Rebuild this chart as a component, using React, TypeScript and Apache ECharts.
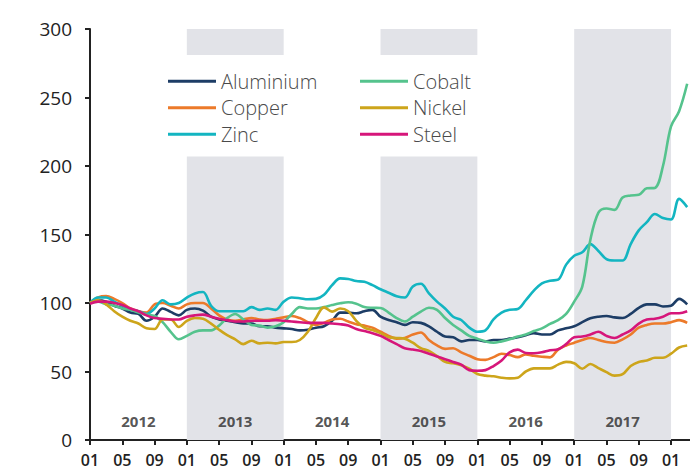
import React, { useEffect, useRef } from "react";
import * as echarts from "echarts";

// months since 2012-01 (index = month offset)
const years = ["2012", "2013", "2014", "2015", "2016", "2017"];
const shadedYears = [1, 3, 5]; // 2013, 2015, 2017
const legendCol1 = ["Aluminium", "Copper", "Zinc"];
const legendCol2 = ["Cobalt", "Nickel", "Steel"];

const aluminium = [100, 102, 101, 98, 96, 93, 92, 87, 90, 96, 93.5, 91,
  95, 96, 94.4, 90, 88, 87, 86, 85, 85, 83, 83, 82,
  81.5, 81, 80, 80.5, 82, 83, 87, 93, 93, 92.5, 94, 95,
  90, 87.6, 86, 84, 86, 85.5, 83, 79, 75.5, 75, 72, 73,
  73, 72, 73, 73, 74, 75, 76.5, 78, 77, 77, 80, 81.5,
  83, 86, 88.8, 90, 90.5, 89.5, 89, 92, 96.5, 99, 99, 97.5,
  98, 103, 99];
const copper = [100, 104, 105, 103, 100, 96, 94, 93, 99, 100, 98, 96,
  99, 100, 100, 96, 91, 88, 87, 88, 89, 88, 87.6, 88.5,
  89.5, 90.5, 89, 86, 84, 85.5, 88, 88.5, 86.5, 84.5, 83.5, 82,
  79, 76, 74, 74.5, 77, 78.5, 73, 69, 66.5, 67, 64, 61.5,
  59, 58.5, 60.5, 63, 62, 60.5, 62.5, 61.5, 60.8, 60.3, 66, 69,
  71, 73, 74.5, 73, 71.5, 71, 73.5, 77, 82, 84, 85, 85,
  86, 87.5, 85.5];
const zinc = [100, 104, 104, 101, 98, 95, 94, 92, 96, 102, 99, 100,
  104, 107, 108, 98, 94, 94, 94, 94, 97, 95, 96, 95,
  101, 104, 103.5, 102.7, 103, 106, 113, 118, 117.5, 116, 115.5, 113,
  110, 107.5, 105, 104, 112, 114, 107, 101, 96, 90, 87.6, 82,
  79, 80, 88, 93, 95, 95.6, 102, 109, 114.4, 116.3, 117, 128,
  134.5, 137, 143, 138, 132, 131, 131, 143, 153, 159, 165, 162,
  161, 176, 170];
const cobalt = [100, 101, 99, 98, 96, 95, 93, 91.5, 90.5, 86, 79, 73.5,
  76, 79, 80, 80, 83.5, 89, 92, 88, 84, 83.5, 82, 83,
  86, 92, 97, 96, 96, 97, 98.5, 99.8, 100.5, 99.5, 97, 96.5,
  96.4, 93, 89, 86.5, 90, 93.7, 96.5, 95, 89, 84, 80, 76,
  74, 72, 71, 72, 73.5, 75.5, 77, 79.5, 81.5, 84.7, 87.5, 92,
  101, 112, 146, 166, 169, 168, 177, 178.5, 179, 183.7, 184, 200,
  229, 240, 260];
const nickel = [100, 102, 99, 94, 90, 87, 85, 81.5, 81, 88, 88, 82.5,
  87, 89, 88.5, 85, 80.5, 76.5, 73.5, 70, 72.5, 70.5, 71, 70.5,
  71.5, 71.5, 73, 79, 89, 96.8, 93.7, 96, 94, 87, 82, 80.3,
  78, 75, 74.5, 74, 71, 67, 65, 61.3, 57, 56, 54.5, 52,
  48.2, 47, 46.5, 45.5, 45, 45.5, 50, 52.3, 52.3, 52.3, 55, 57,
  56, 52, 55.5, 52.5, 49.5, 47, 48, 54, 57, 58, 60, 60,
  63, 67.5, 69];
const steel = [99.5, 101, 101, 100, 98.5, 96, 94, 91, 89, 88.5, 88, 88,
  90, 91, 91.5, 90, 88.5, 87.5, 86.5, 86.5, 87, 87, 87, 87.5,
  87, 86.5, 86, 85.5, 85.5, 85.5, 85, 84.5, 83.5, 81, 79.5, 78,
  76, 73, 70, 67, 66, 65, 63, 61, 59, 57, 55, 51,
  50.5, 51, 54, 58, 64, 66, 63.5, 63.3, 64, 65.5, 66.2, 70,
  75, 75.5, 77, 79, 76, 74.5, 77, 80, 85, 88, 88.5, 90,
  92.5, 92.5, 94];

const seriesDefs = [
  { name: "Aluminium", data: aluminium, color: "#1d3d66" },
  { name: "Copper", data: copper, color: "#ec7a2a" },
  { name: "Zinc", data: zinc, color: "#13b5c1" },
  { name: "Cobalt", data: cobalt, color: "#55c38d" },
  { name: "Nickel", data: nickel, color: "#cda51b" },
  { name: "Steel", data: steel, color: "#d6167a" },
];

const FONT = "'Open Sans', 'Noto Sans', sans-serif";
const monthTicks = Array.from({ length: 19 }, (_, i) => i * 4);

export default function App() {
  const ref = useRef<HTMLDivElement>(null);
  useEffect(() => {
    if (!ref.current) return;
    const chart = echarts.init(ref.current, null, { renderer: "svg" });
    const bandColor = "#e2e3e8";
    const bandData: any[] = [];
    shadedYears.forEach((yi) => {
      const a = yi * 12;
      const b = a + 12;
      if (yi === 5) {
        bandData.push([{ xAxis: a, yAxis: 0 }, { xAxis: b, yAxis: 300 }]);
      } else {
        bandData.push([{ xAxis: a, yAxis: 0 }, { xAxis: b, yAxis: 207 }]);
        bandData.push([{ xAxis: a, yAxis: 281 }, { xAxis: b, yAxis: 300 }]);
      }
    });
    const legendBase = {
      orient: "vertical",
      top: 66,
      itemWidth: 48,
      itemHeight: 3,
      itemGap: 6,
      itemTextGap: 12,
      icon: "rect",
      selectedMode: false,
      textStyle: { fontFamily: FONT, fontSize: 20, color: "#4a4a4a", fontWeight: 300, lineHeight: 20.5 },
    };
    const option: any = {
      animation: false,
      grid: { left: 90, right: 0, top: 29, bottom: 30 },
      legend: [
        { ...legendBase, left: 163, data: legendCol1 },
        { ...legendBase, left: 355, data: legendCol2 },
      ],
      xAxis: {
        type: "value",
        min: 0,
        max: 74.35,
        interval: 4,
        splitLine: { show: false },
        axisLine: { show: true, lineStyle: { color: "#222", width: 2 } },
        axisTick: { show: true, length: 5, customValues: monthTicks, lineStyle: { color: "#222", width: 2 } },
        axisLabel: {
          customValues: monthTicks,
          margin: 12,
          fontFamily: FONT,
          fontSize: 16,
          fontWeight: 600,
          color: "#222",
          formatter: (v: number) => String((Math.round(v) % 12) + 1).padStart(2, "0"),
        },
      },
      yAxis: {
        type: "value",
        min: 0,
        max: 300,
        interval: 50,
        splitLine: { show: false },
        axisLine: { show: true, lineStyle: { color: "#222", width: 2 } },
        axisTick: { show: true, length: 5, lineStyle: { color: "#222", width: 2 } },
        axisLabel: { margin: 18, fontFamily: FONT, fontSize: 19, color: "#222" },
      },
      series: [
        ...seriesDefs.map((s, idx) => ({
          name: s.name,
          type: "line",
          data: s.data.map((v, i) => [i, v]),
          color: s.color,
          showSymbol: false,
          symbol: "none",
          smooth: 0.35,
          lineStyle: { width: 2.6, color: s.color },
          z: 3,
          markArea: idx === 0
            ? { silent: true, itemStyle: { color: bandColor }, data: bandData, z: 1 }
            : undefined,
        })),
        {
          name: "years",
          type: "scatter",
          silent: true,
          symbolSize: 1,
          itemStyle: { color: "rgba(0,0,0,0)" },
          data: years.map((y, i) => [i * 12 + 6, 14.1]),
          label: {
            show: true,
            position: "inside",
            formatter: (p: any) => years[p.dataIndex],
            fontFamily: FONT,
            fontSize: 15,
            fontWeight: 700,
            color: "#2a2a2a",
          },
          z: 4,
        },
      ],
    };
    chart.setOption(option);
    return () => chart.dispose();
  }, []);
  return (
    <div
      ref={ref}
      style={{ position: "absolute", left: 0, top: 0, width: 690, height: 470, background: "#fff" }}
    />
  );
}
